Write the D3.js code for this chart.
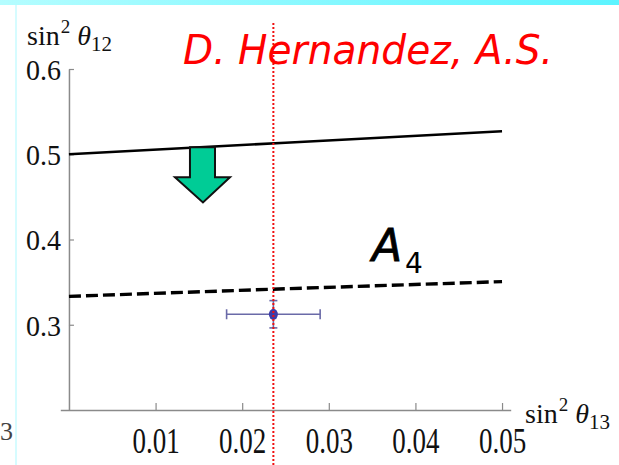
<!DOCTYPE html>
<html><head><meta charset="utf-8">
<script src="https://cdn.jsdelivr.net/npm/d3@7"></script>
<style>body{margin:0;background:#fff}svg{display:block}</style>
</head><body>
<svg id="chart" width="619" height="465"></svg>
<script>
// Tick values
const xTicks = [0.01, 0.02, 0.03, 0.04, 0.05];
const yTicks = [0.3, 0.4, 0.5, 0.6];

// Upper bound on sin^2 theta12 (solid)
const boundX = [0, 0.025, 0.05];
const boundY = [0.5, 0.5135, 0.527];

// A4 prediction (dashed)
const a4X = [0, 0.025, 0.05];
const a4Y = [0.3333, 0.3422, 0.3506];

// Global-fit point with 1-sigma errors
const fitX = [0.0236];
const fitY = [0.3123];
const fitErrX = [0.0054];
const fitErrY = [0.016];

// Measured sin^2 theta13 (red dotted guide)
const theta13 = [0.0236];

// Downward arrow outline (data units)
const arrowX = [0.01397, 0.01686, 0.01686, 0.01859, 0.01547, 0.01224, 0.01397];
const arrowY = [0.5082, 0.5082, 0.4729, 0.4729, 0.4435, 0.4729, 0.4729];

const svg = d3.select("#chart");
const x = d3.scaleLinear([-0.001, 0.051], [60.3, 510.7]);
const y = d3.scaleLinear([0.2, 0.6], [410, 69]);
const serif = "Liberation Serif";

// Header band and left rule
const grad = svg.append("defs").append("linearGradient").attr("id", "band");
grad.append("stop").attr("offset", "0%").attr("stop-color", "#b4fdff");
grad.append("stop").attr("offset", "100%").attr("stop-color", "#5cf4ff");
svg.append("rect").attr("x", 0).attr("y", 0).attr("width", 619).attr("height", 5).attr("fill", "url(#band)");
svg.append("line").attr("x1", 16).attr("x2", 16).attr("y1", 5).attr("y2", 465)
  .attr("stroke", "#c8fbff").attr("stroke-width", 1.5);
svg.append("text").attr("x", 0).attr("y", 440).attr("font-family", serif)
  .attr("font-size", 26).attr("fill", "#444").text("3");

// Axes
const yAxis = svg.append("g").attr("transform", `translate(${x(0)},0)`)
  .call(d3.axisLeft(y).tickValues(yTicks).tickSize(-5).tickSizeOuter(0).tickPadding(8)
    .tickFormat(d3.format(".1f")));
const xAxis = svg.append("g").attr("transform", `translate(0,${y(0.2)})`)
  .call(d3.axisBottom(x).tickValues(xTicks).tickSize(-7).tickSizeOuter(0).tickPadding(20)
    .tickFormat(d3.format(".2f")));
[yAxis, xAxis].forEach(g => {
  g.select(".domain").attr("stroke", "#8a8a8a").attr("stroke-width", 1.5);
  g.selectAll(".tick line").attr("stroke", "#8a8a8a").attr("stroke-width", 1.2);
  g.selectAll(".tick text").attr("font-family", serif).attr("fill", "#111");
});
yAxis.selectAll(".tick text").attr("font-size", 28).attr("x", -8)
  .attr("dy", null).attr("y", 0).attr("dominant-baseline", "central")
  .attr("transform", "scale(1,1.08)");
xAxis.selectAll(".tick text").attr("font-size", 27).attr("dy", null)
  .attr("y", 0).attr("transform", "translate(0,43) scale(1,1.3)");

// Axis titles
function axisTitle(px, py, sub) {
  const t = svg.append("text").attr("x", px).attr("y", py).attr("font-family", serif)
    .attr("font-size", 28).attr("fill", "#111");
  t.append("tspan").text("sin");
  t.append("tspan").attr("font-size", 19).attr("dx", 1).attr("dy", -12).text("2");
  t.append("tspan").attr("dx", 7).attr("dy", 12).attr("font-style", "italic").text("\u03b8");
  t.append("tspan").attr("font-size", 21).attr("dy", 6).text(sub);
}
axisTitle(27, 45, "12");
axisTitle(525, 423, "13");

const line = d3.line().x(d => x(d[0])).y(d => y(d[1]));

// Solid bound
svg.append("path").datum(d3.zip(boundX, boundY)).attr("d", line)
  .attr("fill", "none").attr("stroke", "#000").attr("stroke-width", 2.6);

// Dashed A4 line
svg.append("path").datum(d3.zip(a4X, a4Y)).attr("d", line)
  .attr("fill", "none").attr("stroke", "#000").attr("stroke-width", 3.4)
  .attr("stroke-dasharray", "12,5");

// Arrow
svg.append("path").datum(d3.zip(arrowX, arrowY))
  .attr("d", d => line(d) + "Z")
  .attr("fill", "#00cc96").attr("stroke", "#111").attr("stroke-width", 2)
  .attr("stroke-linejoin", "miter");

// Error bars and point
const fit = d3.zip(fitX, fitY, fitErrX, fitErrY);
const eb = svg.append("g").attr("stroke", "#6a6aa8").attr("stroke-width", 1.6);
fit.forEach(([fx, fy, ex, ey]) => {
  eb.append("line").attr("x1", x(fx - ex)).attr("x2", x(fx + ex)).attr("y1", y(fy)).attr("y2", y(fy));
  eb.append("line").attr("x1", x(fx)).attr("x2", x(fx)).attr("y1", y(fy - ey)).attr("y2", y(fy + ey));
  [fx - ex, fx + ex].forEach(v => eb.append("line").attr("x1", x(v)).attr("x2", x(v))
    .attr("y1", y(fy) - 5).attr("y2", y(fy) + 5));
  [fy - ey, fy + ey].forEach(v => eb.append("line").attr("x1", x(fx) - 4).attr("x2", x(fx) + 4)
    .attr("y1", y(v)).attr("y2", y(v)));
});
svg.selectAll("ellipse.fit").data(fit).join("ellipse").attr("class", "fit")
  .attr("cx", d => x(d[0])).attr("cy", d => y(d[1])).attr("rx", 4.5).attr("ry", 5.5)
  .attr("fill", "#3c3ca8");

// Red dotted guide
svg.selectAll("line.t13").data(theta13).join("line").attr("class", "t13")
  .attr("x1", d => x(d)).attr("x2", d => x(d)).attr("y1", 23).attr("y2", 465)
  .attr("stroke", "#f01010").attr("stroke-width", 2).attr("stroke-dasharray", "2,2");

// Labels
svg.append("text").attr("x", 183).attr("y", 64).attr("font-family", "DejaVu Sans")
  .attr("font-style", "italic").attr("font-size", 40).attr("fill", "#ff0000")
  .attr("textLength", 370).attr("lengthAdjust", "spacingAndGlyphs").text("D. Hernandez, A.S.");

const a4 = svg.append("text").attr("x", 372).attr("y", 261).attr("font-family", "DejaVu Sans")
  .attr("font-size", 44).attr("fill", "#000");
a4.append("tspan").attr("font-style", "italic").attr("stroke", "#000").attr("stroke-width", 0.8).text("A");
a4.append("tspan").attr("font-size", 28).attr("dx", 3).attr("dy", 12).text("4");
</script>
</body></html>
